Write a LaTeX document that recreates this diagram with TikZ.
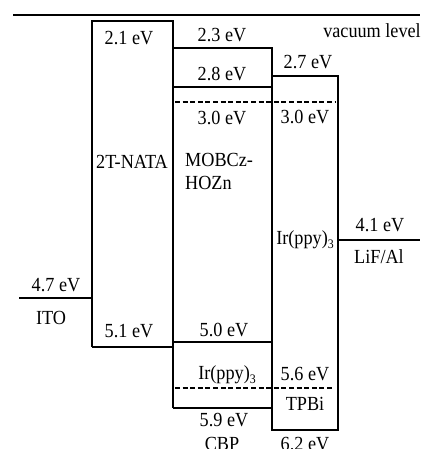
\documentclass[tikz,border=0pt]{standalone}
\usepackage{fontspec}
\setmainfont{Liberation Serif}[FakeStretch=0.91]
\newcommand{\subthree}{\raisebox{-4pt}{\fontsize{13}{13}\selectfont 3}}
\begin{document}
\begin{tikzpicture}[x=1pt,y=-1pt,
  lvl/.style={line width=1.4pt},
  dlvl/.style={line width=1.4pt,dash pattern=on 5pt off 2.6pt},
  lbl/.style={inner sep=0pt,font=\fontsize{20}{22}\selectfont}]
\clip (0,0) rectangle (420,449);
% coordinates
\coordinate (vL) at (13,15); \coordinate (vR) at (420,15);
% ITO
\coordinate (itoL) at (19,298); \coordinate (itoR) at (92,298);
% 2T-NATA box
\draw[lvl] (92,347) coordinate (natBL) -- (92,21) coordinate (natTL) -- (173,21) coordinate (natTR) -- (173,408);
\draw[lvl] (92,347) -- (173,347);
% MOBCz box
\draw[lvl] (173,48) coordinate (mobTL) -- (272,48) -- (272,408);
\draw[lvl] (173,87) -- (272,87);
\draw[lvl] (173,342) -- (272,342);
\draw[lvl] (173,408) -- (272,408);
% right box
\draw[lvl] (272,76) -- (338,76) -- (338,430) -- (272,430) -- (272,408);
% dashed
\draw[dlvl] (175,102) -- (336,102);
\draw[dlvl] (175,388) -- (334,388);
% vacuum, ITO, LiF/Al
\draw[lvl] (vL) -- (vR);
\draw[lvl] (itoL) -- (itoR);
\coordinate (lifL) at (338,240); \coordinate (lifR) at (420,240);
\draw[lvl] (lifL) -- (lifR);
% labels
\node[lbl,anchor=east] (vac) at (421,31) {vacuum level};
\node[lbl] (t21) at (129,38) {2.1 eV};
\node[lbl] (t23) at (222,35) {2.3 eV};
\node[lbl] (t27) at (308,62) {2.7 eV};
\node[lbl] (t28) at (222,74) {2.8 eV};
\node[lbl] (t30a) at (222,118) {3.0 eV};
\node[lbl] (t30b) at (305,117) {3.0 eV};
\node[lbl] (nata) at (132,162) {2T-NATA};
\node[lbl,anchor=west] (mob1) at (185,160) {MOBCz-};
\node[lbl,anchor=west] (mob2) at (185,183) {HOZn};
\node[lbl,anchor=base] (irA) at (305,244) {Ir(ppy)\subthree};
\node[lbl] (t41) at (380,225) {4.1 eV};
\node[lbl] (lif) at (379,257) {LiF/Al};
\node[lbl] (t47) at (56,285) {4.7 eV};
\node[lbl] (ito) at (51,318) {ITO};
\node[lbl] (t51) at (129,331) {5.1 eV};
\node[lbl] (t50) at (224,330) {5.0 eV};
\node[lbl,anchor=base] (irB) at (227,379) {Ir(ppy)\subthree};
\node[lbl] (t56) at (305,374) {5.6 eV};
\node[lbl] (tpbi) at (305,404) {TPBi};
\node[lbl] (t59) at (224,420) {5.9 eV};
\node[lbl] (cbp) at (222,444) {CBP};
\node[lbl] (t62) at (305,444) {6.2 eV};
\end{tikzpicture}
\end{document}
